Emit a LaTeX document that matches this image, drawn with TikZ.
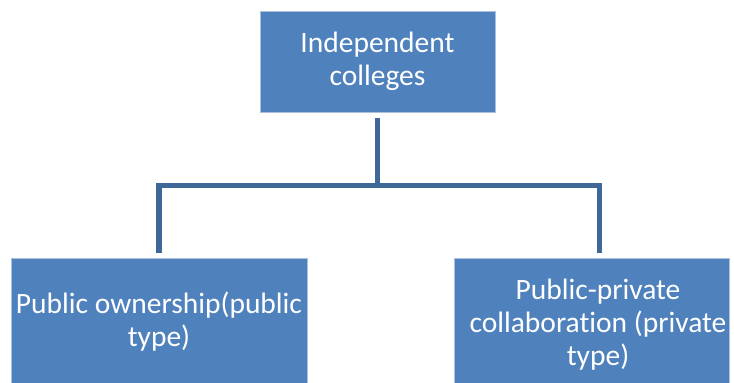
\documentclass[tikz,border=0pt]{standalone}
\usepackage{fontspec}
\setmainfont{Carlito}[Ligatures=NoCommon]
\definecolor{boxblue}{HTML}{4F81BD}
\definecolor{boxedge}{HTML}{A9C0DE}
\definecolor{linkblue}{HTML}{3F6797}
\begin{document}
\begin{tikzpicture}[x=1pt,y=-1pt,
  box/.style={draw=boxedge, fill=boxblue, line width=0.8pt, inner sep=0pt},
  boxtext/.style={text=white, align=center, inner sep=0pt, font=\fontsize{29.5}{33}\selectfont},
  link/.style={draw=linkblue, line width=5.5pt, line join=miter}]
\useasboundingbox (0,0) rectangle (734,383);
\clip (0,0) rectangle (734,383);

% boxes
\node[box, boxtext, minimum width=235pt, minimum height=101pt] (top) at (377.5,61.5) {Independent\\colleges};
\node[box, boxtext, minimum width=296pt, minimum height=127pt] (pub) at (159,321.5) {Public ownership(public\\type)};
\node[box, minimum width=275pt, minimum height=134pt] (priv) at (591.5,325) {};
\node[boxtext] (privtext) at (598,325) {Public-private\\collaboration (private\\type)};

% connectors
\coordinate (hub) at (378,185.5);
\coordinate (privtop) at (599.5,258);
\draw[link, shorten <=6pt] (top.south) -- (top.south |- hub);
\draw[link, shorten <=5pt, shorten >=5pt] (pub.north) |- (hub) -| (privtop);
\end{tikzpicture}
\end{document}
